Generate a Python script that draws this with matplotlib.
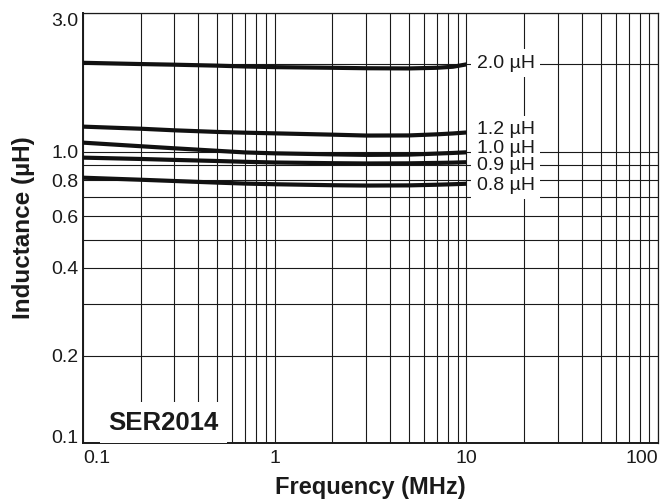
import matplotlib
matplotlib.use("Agg")
import matplotlib.pyplot as plt
from matplotlib.ticker import FixedLocator, LogLocator, NullFormatter, FixedFormatter

plt.rcParams['font.family'] = ['Liberation Sans', 'DejaVu Sans']

# Frequency (MHz)
freq = [0.1, 0.2, 0.3, 0.5, 0.7, 1, 2, 3, 5, 7, 8.5, 10]
# Inductance curves (uH)
L_20 = [2.02, 2.00, 1.99, 1.975, 1.962, 1.952, 1.942, 1.935, 1.932, 1.942, 1.958, 1.995]
L_12 = [1.22, 1.20, 1.185, 1.17, 1.163, 1.157, 1.145, 1.137, 1.138, 1.148, 1.156, 1.165]
L_10 = [1.075, 1.045, 1.028, 1.008, 0.995, 0.988, 0.980, 0.976, 0.978, 0.986, 0.991, 0.996]
L_09 = [0.955, 0.945, 0.938, 0.930, 0.924, 0.919, 0.914, 0.912, 0.913, 0.916, 0.918, 0.921]
L_08 = [0.815, 0.802, 0.794, 0.784, 0.778, 0.774, 0.768, 0.766, 0.767, 0.771, 0.774, 0.777]
curves = [L_20, L_12, L_10, L_09, L_08]
curve_labels = ["2.0 µH", "1.2 µH", "1.0 µH", "0.9 µH", "0.8 µH"]
label_x = 11.3
label_y = [2.012, 1.188, 1.028, 0.896, 0.769]

x_ticks = [0.1, 1, 10, 100]
x_ticklabels = ["0.1", "1", "10", "100"]
y_ticks = [0.1, 0.2, 0.4, 0.6, 0.8, 1.0, 3.0]
y_ticklabels = ["0.1", "0.2", "0.4", "0.6", "0.8", "1.0", "3.0"]

fig = plt.figure(figsize=(6.72, 5.03), dpi=100)
ax = fig.add_axes([0.1235, 0.1187, 0.856, 0.856])
ax.set_xscale('log')
ax.set_yscale('log')
ax.set_xlim(0.1, 100)
ax.set_ylim(0.1, 3.0)

ax.xaxis.set_major_locator(FixedLocator(x_ticks))
ax.xaxis.set_major_formatter(FixedFormatter(x_ticklabels))
ax.xaxis.set_minor_locator(LogLocator(base=10, subs=range(1, 10), numticks=30))
ax.xaxis.set_minor_formatter(NullFormatter())
ax.yaxis.set_major_locator(FixedLocator(y_ticks))
ax.yaxis.set_major_formatter(FixedFormatter(y_ticklabels))
ax.yaxis.set_minor_locator(LogLocator(base=10, subs=range(1, 10), numticks=30))
ax.yaxis.set_minor_formatter(NullFormatter())

ax.grid(True, which='both', color='#1a1a1a', linewidth=0.8, zorder=1)
ax.set_axisbelow(True)
ax.tick_params(which='both', length=0)
ax.tick_params(axis='x', pad=5, labelsize=14, colors='#1a1a1a')
ax.tick_params(axis='y', pad=3, labelsize=14, colors='#1a1a1a')

xl = ax.get_xticklabels()
xl[0].set_horizontalalignment('left')
xl[-1].set_horizontalalignment('right')
yl = ax.get_yticklabels()
yl[0].set_verticalalignment('baseline')
yl[-1].set_verticalalignment('top')

for sp in ax.spines.values():
    sp.set_color('#1a1a1a')
    sp.set_linewidth(0.9)
ax.spines['left'].set_linewidth(1.4)
ax.spines['bottom'].set_linewidth(1.4)

for vals in curves:
    ax.plot(freq, vals, color='#111111', linewidth=3.0, solid_capstyle='butt', zorder=3)

# white backing boxes first, then the label text on top of all boxes
for txt, yv in zip(curve_labels, label_y):
    ax.text(label_x, yv, txt, ha='left', va='center', fontsize=14, color='white',
            zorder=4, bbox=dict(boxstyle='square,pad=0.28', facecolor='white', edgecolor='none'))
for txt, yv in zip(curve_labels, label_y):
    ax.text(label_x, yv, txt, ha='left', va='center', fontsize=14, color='#1a1a1a', zorder=5)

ax.text(0.0435, 0.031, "SER2014", transform=ax.transAxes, ha='left', va='baseline',
        fontsize=18.5, fontweight='bold', color='#1a1a1a', zorder=4,
        bbox=dict(boxstyle='square,pad=0.33', facecolor='white', edgecolor='none'))

ax.set_xlabel("Frequency (MHz)", fontsize=17, fontweight='bold', color='#1a1a1a', labelpad=6)
ax.set_ylabel("Inductance (µH)", fontsize=17.5, fontweight='bold', color='#1a1a1a', labelpad=12)

fig.savefig("out.png", dpi=100)
